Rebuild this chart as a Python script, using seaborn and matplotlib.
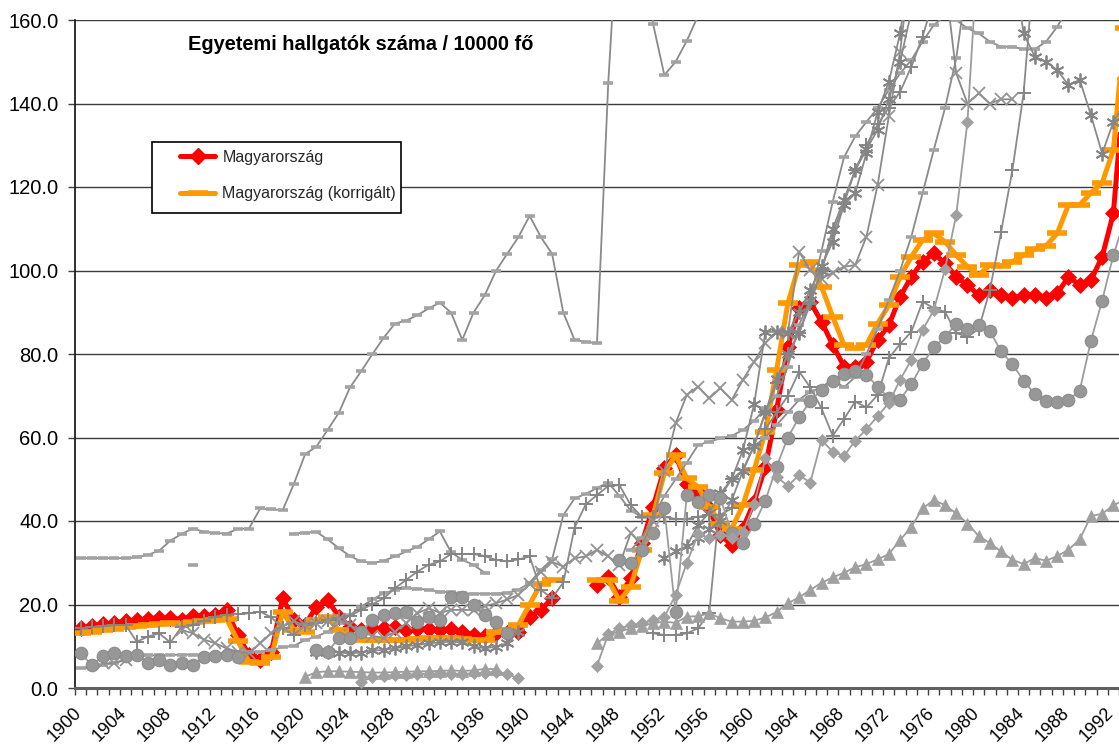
import numpy as np
import pandas as pd
import seaborn as sns
import matplotlib.pyplot as plt
from matplotlib.lines import Line2D
from matplotlib.patches import Rectangle
from matplotlib.ticker import FormatStrFormatter
from matplotlib.transforms import ScaledTranslation

N = None
years = np.arange(1900, 1994)

# Magyarország (piros) es korrigalt (narancs)
hu_1900 = [14.3, 14.8, 15.3, 15.6, 16.0, 16.2, 16.6, 16.8, 16.8, 16.4,
           17.3, 17.3, 17.6, 18.6, 12.7, 7.9, 6.7, 8.7, 21.5, 16.3,
           15.1, 19.5, 21.1, 17.1, 14.7, 13.9, 14.3, 14.3, 14.5, 13.9,
           14.2, 14.2, 13.9, 14.2, 13.5, 12.7, 12.5, 13.2, 13.2, 13.5,
           17.0, 18.7, 21.5]
hu_1946 = [24.7, 26.5, 21.9, 26.3, 34.7, 43.4, 52.6, 55.8, 48.9, 47.0,
           43.0, 36.6, 34.3, 38.2, 44.6, 53.0, 66.6, 81.7, 90.9, 92.5,
           87.7, 82.2, 77.0, 77.0, 78.2, 83.4, 86.9, 93.7, 98.5, 102.1,
           104.1, 101.7, 98.5, 96.5, 94.1, 95.3, 94.1, 93.3, 94.1, 94.1,
           93.3, 94.5, 98.5, 96.5, 97.7, 103.3, 113.7, 146]
huk_1900 = [13.1, 13.5, 13.9, 14.2, 14.6, 14.9, 15.1, 15.3, 15.5, 15.3,
            15.7, 16.0, 16.2, 16.6, 11.3, 6.3, 6.0, 7.5, 18.3, 13.9,
            13.5, 16.3, 16.9, 13.8, 12.2, 11.6, 11.4, 11.4, 11.5, 11.6,
            11.8, 12.0, 12.0, 12.0, 11.8, 11.5, 11.5, 13.4, 13.9, 15.1,
            20.0, 25.0, 25.9]
huk_1946 = [25.9, 25.9, 20.9, 24.3, 33.1, 41.4, 51.4, 55.8, 50.2, 48.2,
            43.4, 39.4, 38.2, 43.8, 52.2, 61.4, 76.2, 92.1, 101.3, 102.1,
            96.1, 88.9, 82.2, 81.4, 82.2, 87.3, 91.7, 98.5, 103.3, 107.3,
            108.9, 106.9, 103.7, 100.9, 98.9, 101.3, 101.1, 102.1, 103.7, 105.1,
            105.9, 108.9, 115.7, 115.7, 118.6, 121.0, 128.9, 158]

# tobbi orszag (szurke)
dash_a = [31.1, 31.1, 31.1, 31.1, 31.1, 31.3, 31.9, 32.9, 35.3, 36.9,
          38.2, 37.4, 37.1, 37.0, 38.1, 38.2, 43.0, 42.8, 42.6, 48.9,
          56.0, 57.8, 61.8, 65.9, 72.0, 75.9, 80.0, 83.9, 87.3, 88.0,
          89.3, 90.9, 92.3, 89.9, 83.4, 89.9, 94.1, 99.9, 104.0, 108.0,
          113.1, 108.0, 104.0, 89.9, 83.4, 82.9, 82.6, 144.8, 190, 190,
          185, 159, 146.8, 150, 155, 161, 175]              # 1900-
dash_iso = [29.5]                                          # 1910
dash_b = [4.7, 4.8, 5.5, 6.0, 6.8, 7.5, 7.8, 7.9, 7.9, 8.0,
          8.0, 8.0, 8.0, 8.2, 8.7, 8.7, 8.7, 9.0, 9.8, 10.1,
          11.5, 12.3, 13.5, 15.5, 17.5, 19.5, 21.2, 22.7, 23.5, 23.9,
          23.8, 23.5, 23.1, 22.9, 22.7, 22.6, 22.6, 22.6, 22.8, 23.5,
          25.2, 28.3, 30.8, 41.4, 45.4, 46.5, 47.9, 49.2, 46.0, 42.5,
          41.0]                                            # 1900-
dash_c = [37.0, 37.2, 37.4, 35.6, 33.5, 31.6, 30.3, 29.9, 30.5, 31.5,
          32.7, 33.8, 35.6, 37.5, 32.5, 30.7, 29.5, 27.6]  # 1919-
dash_d = [33, 36, 41, 46, 50, 54, 58.2, 59, 59.8, 60.4,
          61.8, 64, 67, 70, 77, 87, 93, 104.7, 116.5, 127.1,
          132.1, 135.6, 138.9, 143.3, 147.2, 150.4, 154.8, 158.8, 161, 160,
          158, 156.8, 154.8, 153.6, 153.6, 153, 153, 154.8, 158.4, 163]  # 1949-
dash_e = [58, 60, 63, 66, 69, 71, 72, 74, 72, 74.5,
          80, 86, 93, 100, 108.1, 118.5, 128.9, 138.9, 150.8, 170]  # 1960-
circ = [8.3, 5.5, 7.7, 8.3, 7.7, 8.0, 6.1, 6.7, 5.5, 5.9,
        5.4, 7.5, 7.7, 8.0, 7.5, N, N, N, N, N,
        N, 9.1, 8.7, 11.9, 11.9, 13.5, 16.4, 17.5, 18.0, 18.3,
        15.9, 17.1, 16.3, 21.8, 21.8, 19.8, 17.5, 15.8, 13.1, N,
        N, N, N, N, N, N, N, N, 30.7, 30.0,
        33.0, 37.1, 43.0, 18.1, 46.2, 44.6, 46.2, 45.4, 37.1, 34.7,
        39.2, 44.9, 53.0, 60.0, 64.8, 68.7, 71.4, 73.6, 75.1, 76.0,
        75.0, 72.2, 69.4, 69.1, 72.8, 77.6, 81.6, 84.0, 87.3, 86.0,
        87.0, 85.5, 80.6, 77.6, 73.6, 70.4, 68.8, 68.6, 69.0, 71.2,
        83.2, 92.8, 103.7, 112]                            # 1900-
plus_a = [14.3, 14.6, 14.9, 15.1, 15.1, 11.1, 12.3, 13.1, 10.9, 14.7,
          15.1, 16.1, 17.1, 17.5, 17.7, 17.9, 18.3, 16.9, 14.3, 12.7,
          15.1, 15.5, 16.3, 16.7, 17.3, 18.7, 20.1, 21.5, 23.9, 25.9,
          27.9, 29.5, 30.3, 32.1, 32.1, 32.1, 31.6, 30.7, 30.3, 30.8,
          31.5, 23.5, 21.5, 25.3, 38.4, 44.0, 46.2, 48.4, 48.6, 43.8,
          41.0, 41.0, 41.0, 40.5, 40.5, 41.0, 41.5, 41.5, 43.0]  # 1900-
plus_low = [13.1, 12.7, 12.7, 13.1, 14.3, 17.9, 46, 50, 52.2, 58.2,
            66, 73, 80, 85, 92, 100, 108.9, 116, 124.1, 130,
            135, 139, 142.8, 148.8, 156, 165]              # 1951-
plus_b = [62, 66, 70, 75.8, 72, 67, 60.4, 64.4, 68.6,
          67.2, 70.2, 79, 82.4, 85.3, 92.5, 91, 90.1, 85, 84.1,
          86, 95.3, 109.3, 124, 142.4, 175]                # 1961-
x_ser = [5.9, 6.0, 6.7, N, N, N, N, 13.9, 13.1, 11.6,
         10.7, 9.5, 8.7, 8.3, 10.7, 13.1, 14.7, 16.0, 15.0, 15.5,
         16.0, 16.5, 15.0, 13.5, 12.5, 12.0, 13.5, 15.5, 17.9, 19.1,
         18.0, 18.7, 18.7, 18.7, 19.6, 20.3, 21.2, 22.3, 24.9, 27.9,
         30.2, 29.1, 31.1, 31.5, 33.1, 31.5, 29.5, 37.1, 34.3, 40,
         52, 63.4, 70.2, 72.2, 69.4, 71.8, 69, 73.8, 78.2, 82.6,
         85.3, 85, 104.5, 100.1, 98, 99.5, 100.9, 101.3, 108.1, 120.5,
         137, 152.4, 175, 175, 175, 170, 147.2, 140, 142.4, 140,
         141, 141]                                         # 1902-
ast_a = [8.7, 8.7, 8.5, 8.3, 8.5, 9.0, 9.1, 9.5, 10.0, 10.3,
         10.7, 10.9, 11.1, 10.9, 10.0, 9.5, 9.9, 10.7, 13.5]  # 1921-
ast_b = [31.1, 32.7, 34, 39, 42, 46.6, 50, 57, 68, 85.3,
         85.3, 85, 90, 95.3, 101, 106.9, 115.7, 118.5, 128.1, 138,
         145.2, 156.8, 175, N, N, N, N, N, N, N,
         N, 175, 156.8, 151.2, 150, 148, 144.4, 145.7, 137.2, 128,
         135.6, 140]                                       # 1952-
ast_c = [36, 38, 40, 45, 52, 58, 66, 74, 80, 85,
         93, 100, 110, 117, 124, 129, 133.7, 141, 150, 162, 175]  # 1955-
dia_a = [1.5, 2.6, 2.9, 3.1, 3.1, 3.4, 3.4, 3.5, 3.4, 3.4,
         3.5, 3.7, 3.8, 3.4, 2.3]                          # 1925-
tri_a = [2.7, 3.8, 4.0, 4.0, 3.9, 3.8, 3.7, 3.7, 3.8, 3.9,
         4.0, 4.0, 4.1, 4.2, 4.1, 4.2, 4.6, 4.5]           # 1920-
dia_b = [5.3, 12.9, 14.3, 15.0, 15.5, 16.3, 17.0, 22.3, 30.0, 36.8,
         36.0, 36.7, 36.0, 37.4, 44.0, 55.0, 50.6, 48.4, 51.0, 49.2,
         59.4, 56.6, 55.6, 59.2, 62.0, 65.1, 68.3, 73.8, 78.6, 85.7,
         90.5, 100.3, 113.3, 135.6, 180]                   # 1946-
tri_b = [10.7, 12.9, 13.5, 14.3, 14.9, 15.5, 15.9, 15.6, 17.1, 17.2,
         17.9, 16.7, 15.9, 15.9, 16.1, 16.9, 18.2, 20.3, 21.7, 23.5,
         25.2, 26.5, 27.6, 28.9, 29.7, 30.8, 32.1, 35.4, 38.6, 43.0,
         45.0, 43.8, 41.8, 39.4, 36.4, 34.7, 32.7, 30.7, 29.7, 31.1,
         30.5, 31.6, 33.1, 35.6, 41.2, 41.7, 43.8, 45]     # 1946-

tick_years = list(range(1900, 1993, 4))


def full(start, vals):
    s = pd.Series(np.nan, index=years)
    for i, v in enumerate(vals):
        if v is not None:
            s[start + i] = v
    return s


def draw(ser, **kw):
    # Excel-hez hasonloan a hianyzo evek megszakitjak a vonalat
    s = ser.dropna()
    grp = (s.index.to_series().diff() != 1).cumsum()
    for _, seg in s.groupby(grp):
        sns.lineplot(x=seg.index.values, y=seg.values, ax=ax, errorbar=None,
                     legend=False, sort=False, **kw)


sns.set_theme(style='white')
plt.rcParams['font.family'] = ['Liberation Sans', 'DejaVu Sans']

fig = plt.figure(figsize=(11.19, 7.49), dpi=100)
ax = fig.add_axes([75 / 1119, 61 / 749, 1044 / 1119, 668 / 749])

grey = '#8a8a8a'
light = '#9c9c9c'
thin = dict(color=grey, lw=1.3, zorder=4)

dash_st = dict(thin, marker='_', markersize=7, markeredgewidth=2.6,
               markeredgecolor='#a3a3a3')
plus_st = dict(thin, marker='+', markersize=10, markeredgewidth=1.4,
               markeredgecolor='#858585')
x_st = dict(thin, marker='x', markersize=9, markeredgewidth=1.3,
            markeredgecolor='#939393')
ast_st = dict(thin, marker=(6, 2, 0), markersize=10, markeredgewidth=1.3,
              markeredgecolor='#858585')
circ_st = dict(color=light, lw=1.3, zorder=4, marker='o', markersize=9,
               markerfacecolor='#979797', markeredgecolor='#8c8c8c',
               markeredgewidth=0.8)
tri_st = dict(color=light, lw=1.3, zorder=4, marker='^', markersize=9,
              markerfacecolor='#a0a0a0', markeredgecolor='#a0a0a0',
              markeredgewidth=0.5)
dia_st = dict(color=light, lw=1.3, zorder=4, marker='D', markersize=6.5,
              markerfacecolor='#a0a0a0', markeredgecolor='#a0a0a0',
              markeredgewidth=0.5)

red_st = dict(color='#ff0000', lw=3.6, zorder=3, marker='D', markersize=8.5,
              markerfacecolor='#ff0000', markeredgecolor='#ff0000',
              markeredgewidth=0.5)
org_st = dict(color='#ff9900', lw=3.6, zorder=3.5, marker='_', markersize=14,
              markeredgecolor='#ff9900', markeredgewidth=4)

hu = full(1900, hu_1900).combine_first(full(1946, hu_1946))
huk = full(1900, huk_1900).combine_first(full(1946, huk_1946))
draw(hu, **red_st)
draw(huk, **org_st)

draw(full(1900, dash_a), **dash_st)
draw(full(1910, dash_iso), **dash_st)
draw(full(1900, dash_b), **dash_st)
draw(full(1919, dash_c), **dash_st)
draw(full(1949, dash_d), **dash_st)
draw(full(1960, dash_e), **dash_st)
draw(full(1900, plus_a), **plus_st)
draw(full(1951, plus_low), **plus_st)
draw(full(1961, plus_b), **plus_st)
draw(full(1902, x_ser), **x_st)
draw(full(1921, ast_a), **ast_st)
draw(full(1952, ast_b), **ast_st)
draw(full(1955, ast_c), **ast_st)
draw(full(1900, circ), **circ_st)
draw(full(1925, dia_a), **dia_st)
draw(full(1946, dia_b), **dia_st)
draw(full(1920, tri_a), **tri_st)
draw(full(1946, tri_b), **tri_st)

ax.set_xlim(1899.5, 1992.47)
ax.set_ylim(0, 160)
ax.set_xlabel('')
ax.set_ylabel('')

ax.set_yticks(np.arange(0, 161, 20))
ax.yaxis.set_major_formatter(FormatStrFormatter('%.1f'))
ax.yaxis.grid(True, color='#3c3c3c', lw=1)
ax.xaxis.grid(False)
ax.set_axisbelow(True)

ax.set_xticks(tick_years)
ax.set_xticklabels([str(y) for y in tick_years], rotation=45, ha='right',
                   rotation_mode='anchor')
ax.set_xticks(np.arange(1899.5, 1993, 1), minor=True)
ax.tick_params(axis='x', which='major', length=0, pad=12, labelsize=13,
               labelcolor='black')
ax.tick_params(axis='x', which='minor', length=5, width=1, color='#404040',
               direction='out', bottom=True)
ax.tick_params(axis='y', length=5, width=1, color='#404040', direction='out',
               left=True, pad=7, labelsize=14.5, labelcolor='black')
for lab in ax.get_xticklabels():
    lab.set_transform(lab.get_transform() +
                      ScaledTranslation(-0.08, 0, fig.dpi_scale_trans))

for sp in ['top', 'right']:
    ax.spines[sp].set_visible(False)
ax.spines['left'].set_color('#202020')
ax.spines['left'].set_linewidth(1.3)
ax.spines['bottom'].set_color('#606060')
ax.spines['bottom'].set_linewidth(2.2)

ax.text(0.2735, 0.9626, 'Egyetemi hallgatók száma / 10000 fő',
        transform=ax.transAxes, ha='center', va='center',
        fontsize=14.4, fontweight='bold', color='black', zorder=6)

# jelmagyarazat keret + bejegyzesek
ax.add_patch(Rectangle((0.0738, 0.7111), 0.2385, 0.1063, transform=ax.transAxes,
                       facecolor='white', edgecolor='black', lw=1.2,
                       zorder=8, clip_on=False))
handles = [Line2D([0], [0], color='#ff0000', lw=3.6, marker='D', markersize=8,
                  markerfacecolor='#ff0000', markeredgecolor='#ff0000'),
           Line2D([0], [0], color='#ff9900', lw=3.6, marker='_', markersize=14,
                  markeredgecolor='#ff9900', markeredgewidth=4)]
leg = ax.legend(handles, ['Magyarország', 'Magyarország (korrigált)'],
                loc='upper left', bbox_to_anchor=(0.1006, 0.806),
                frameon=False, borderpad=0, borderaxespad=0, fontsize=11.5,
                handlelength=2.2, handletextpad=0.45, labelspacing=1.35)
leg.set_zorder(9)

fig.savefig('out.png', dpi=100)
